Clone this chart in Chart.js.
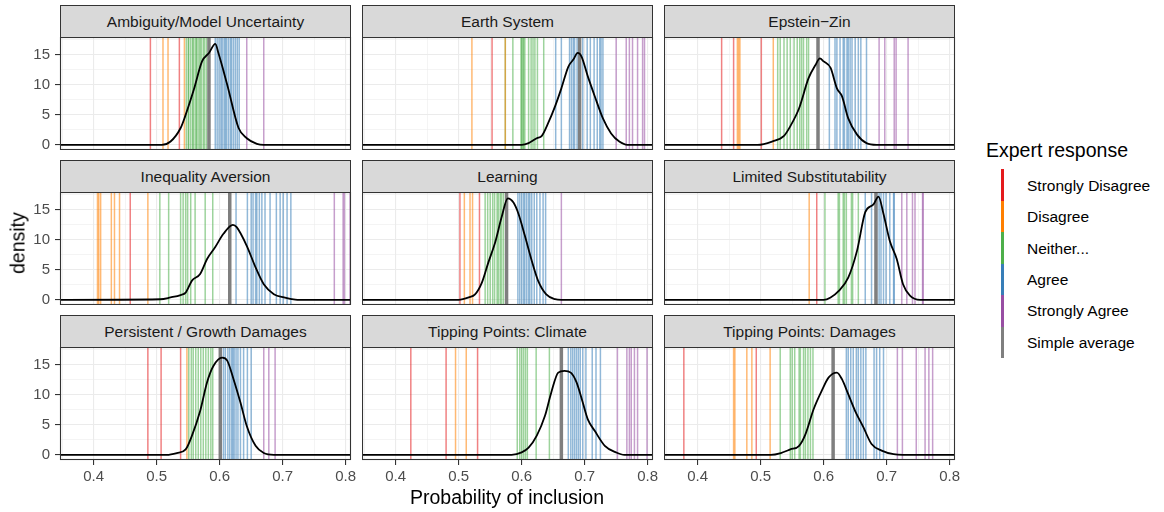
<!DOCTYPE html>
<html>
<head>
<meta charset="utf-8">
<script src="https://cdn.jsdelivr.net/npm/chart.js@4"></script>
<style>
  body { margin: 0; background: #fff; font-family: "Liberation Sans", Arial, sans-serif; }
  #page { position: relative; width: 1164px; height: 512px; overflow: hidden; }
  .panel { position: absolute; }
  .strip { position: absolute; box-sizing: border-box; background: #d9d9d9; border: 1px solid #333;
           color: #1a1a1a; font-size: 15.5px; text-align: center; line-height: 31px; white-space: nowrap; }
  .title { position: absolute; color: #000; font-size: 19.5px; white-space: nowrap; }
  .key { position: absolute; width: 2.5px; }
  .lab { position: absolute; font-size: 15.5px; color: #000; white-space: nowrap; line-height: 20px; }
</style>
</head>
<body>
<div id="page"></div>
<script>
// facet titles
const categories = ["Ambiguity/Model Uncertainty", "Earth System", "Epstein\u2212Zin",
  "Inequality Aversion", "Learning", "Limited Substitutability",
  "Persistent / Growth Damages", "Tipping Points: Climate", "Tipping Points: Damages"];

const responseLabels = ["Strongly Disagree", "Disagree", "Neither...", "Agree", "Strongly Agree", "Simple average"];
const responseColors = ["#E41A1C", "#FF7F00", "#4DAF4A", "#377EB8", "#984EA3", "#7F7F7F"];

// expert answers per facet (probability of inclusion)
const strongDisagree = [
  [0.490, 0.536],
  [0.553],
  [0.438, 0.457, 0.501],
  [0.458],
  [0.502, 0.533],
  [0.589],
  [0.486, 0.507, 0.538],
  [0.424, 0.480, 0.530],
  [0.378, 0.493]
];
const disagree = [
  [0.510, 0.518, 0.544],
  [0.521, 0.574],
  [0.463, 0.465, 0.467, 0.520],
  [0.406, 0.408, 0.411, 0.428, 0.433, 0.441, 0.486],
  [0.509, 0.518, 0.522],
  [0.577],
  [0.548],
  [0.495, 0.512],
  [0.457, 0.459, 0.478, 0.486, 0.515]
];
const neither = [
  [0.547, 0.550, 0.551, 0.554, 0.557, 0.558, 0.561, 0.563, 0.564, 0.567, 0.569, 0.571, 0.574, 0.576, 0.579],
  [0.574, 0.586, 0.599, 0.600, 0.602, 0.603, 0.605, 0.611, 0.615, 0.618, 0.621, 0.625, 0.635],
  [0.527, 0.531, 0.537, 0.542, 0.547, 0.553, 0.558, 0.562, 0.565, 0.568, 0.573, 0.576],
  [0.505, 0.519, 0.538, 0.542, 0.546, 0.549, 0.554, 0.561, 0.577, 0.589],
  [0.542, 0.546, 0.550, 0.554, 0.557, 0.561, 0.563, 0.566, 0.568, 0.571],
  [0.602, 0.623, 0.625, 0.631, 0.633, 0.636, 0.644, 0.646, 0.655],
  [0.551, 0.555, 0.558, 0.562, 0.566, 0.570, 0.574, 0.578, 0.582, 0.586, 0.589],
  [0.593, 0.597, 0.600, 0.603, 0.606, 0.609, 0.623, 0.644],
  [0.531, 0.547, 0.550, 0.554, 0.561, 0.563, 0.568, 0.571, 0.575, 0.579, 0.583]
];
const agree = [
  [0.593, 0.596, 0.599, 0.602, 0.604, 0.607, 0.609, 0.611, 0.614, 0.617, 0.619, 0.622, 0.625, 0.628, 0.631],
  [0.654, 0.663, 0.676, 0.679, 0.682, 0.684, 0.688, 0.697, 0.704, 0.709, 0.715, 0.720, 0.724, 0.726, 0.729],
  [0.609, 0.618, 0.621, 0.626, 0.631, 0.633, 0.637, 0.639, 0.642, 0.645, 0.650, 0.655, 0.659, 0.668],
  [0.626, 0.644, 0.650, 0.653, 0.657, 0.659, 0.663, 0.667, 0.672, 0.680, 0.690, 0.696, 0.701, 0.707, 0.713],
  [0.594, 0.597, 0.600, 0.603, 0.605, 0.608, 0.611, 0.613, 0.616, 0.620, 0.624, 0.629, 0.634, 0.638],
  [0.666, 0.676, 0.684, 0.688, 0.691, 0.695, 0.699, 0.705, 0.711, 0.712],
  [0.606, 0.609, 0.613, 0.616, 0.619, 0.621, 0.623, 0.626, 0.629, 0.633, 0.638, 0.644, 0.650],
  [0.674, 0.678, 0.681, 0.684, 0.687, 0.690, 0.693, 0.697, 0.702, 0.712, 0.718, 0.725],
  [0.636, 0.639, 0.643, 0.647, 0.652, 0.655, 0.659, 0.663, 0.667, 0.680, 0.684, 0.689, 0.695]
];
const strongAgree = [
  [0.643, 0.670],
  [0.750, 0.766, 0.771, 0.776, 0.784, 0.792, 0.795],
  [0.688, 0.697, 0.712, 0.715, 0.734],
  [0.782, 0.796, 0.798, 0.807],
  [0.663],
  [0.724, 0.732, 0.741, 0.745, 0.757, 0.758],
  [0.670, 0.678, 0.688],
  [0.752, 0.767, 0.771, 0.774, 0.779, 0.784, 0.799],
  [0.717, 0.725, 0.747, 0.761, 0.767, 0.773]
];
const simpleAverage = [0.583, 0.692, 0.591, 0.616, 0.576, 0.683, 0.601, 0.663, 0.615];

// density curve
const densityX = [
  [0.34, 0.508, 0.522, 0.538, 0.545, 0.559, 0.572, 0.583, 0.593, 0.598, 0.612, 0.630, 0.643, 0.659, 0.670, 0.82],
  [0.34, 0.600, 0.611, 0.624, 0.632, 0.642, 0.653, 0.663, 0.674, 0.682, 0.689, 0.695, 0.705, 0.716, 0.729, 0.742, 0.755, 0.768, 0.82],
  [0.34, 0.495, 0.518, 0.537, 0.547, 0.561, 0.576, 0.587, 0.594, 0.600, 0.611, 0.621, 0.629, 0.639, 0.653, 0.668, 0.684, 0.82],
  [0.34, 0.506, 0.522, 0.538, 0.546, 0.556, 0.569, 0.580, 0.593, 0.606, 0.621, 0.627, 0.643, 0.657, 0.670, 0.686, 0.702, 0.720, 0.739, 0.82],
  [0.34, 0.500, 0.516, 0.526, 0.537, 0.547, 0.558, 0.568, 0.578, 0.587, 0.595, 0.605, 0.616, 0.626, 0.639, 0.653, 0.663, 0.82],
  [0.34, 0.600, 0.611, 0.624, 0.639, 0.653, 0.666, 0.679, 0.687, 0.695, 0.705, 0.716, 0.726, 0.737, 0.753, 0.82],
  [0.34, 0.516, 0.532, 0.546, 0.556, 0.569, 0.580, 0.590, 0.604, 0.612, 0.622, 0.633, 0.643, 0.657, 0.670, 0.686, 0.82],
  [0.34, 0.584, 0.600, 0.611, 0.624, 0.637, 0.647, 0.658, 0.668, 0.678, 0.687, 0.697, 0.705, 0.716, 0.732, 0.750, 0.763, 0.82],
  [0.34, 0.516, 0.532, 0.547, 0.561, 0.571, 0.584, 0.597, 0.608, 0.621, 0.629, 0.639, 0.650, 0.663, 0.676, 0.692, 0.711, 0.726, 0.82]
];
const densityY = [
  [0, 0, 0.55, 2.8, 4.7, 9.2, 13.9, 15.3, 16.8, 15.3, 10, 2.8, 1.1, 0.17, 0, 0],
  [0, 0, 0.28, 1.1, 1.5, 3.6, 6.4, 9.4, 13, 14.2, 15.3, 14.7, 11.4, 8.1, 4.4, 1.9, 0.55, 0, 0],
  [0, 0, 0.55, 1.5, 3.1, 6.1, 11.1, 13.3, 14.4, 13.9, 12.8, 9.4, 8.1, 4.4, 1.7, 0.28, 0, 0],
  [0, 0.1, 0.4, 0.8, 1.2, 3.2, 4.3, 6.8, 8.8, 11, 12.5, 12.1, 9, 5.4, 2.6, 0.95, 0.4, 0.05, 0, 0],
  [0, 0, 0.4, 0.9, 2.9, 6.2, 9.6, 13.7, 16.9, 16.2, 14.3, 10.7, 6.5, 3.2, 0.9, 0.1, 0, 0],
  [0, 0, 0.4, 1.5, 3.7, 8.2, 14.6, 15.9, 17.2, 14.3, 9.8, 6.8, 2.6, 0.7, 0, 0],
  [0, 0, 0.3, 0.9, 3.2, 7.3, 12.1, 14.8, 16.2, 15.7, 12.6, 8.7, 4.8, 1.5, 0.3, 0, 0],
  [0, 0, 0.4, 1.2, 3.2, 6.5, 10.4, 13.7, 14, 13.7, 12.1, 8.7, 5.9, 4, 1.5, 0.4, 0, 0],
  [0, 0, 0.3, 0.9, 1.5, 3.4, 7.6, 10.7, 12.9, 13.7, 12.6, 10.1, 7.3, 4.6, 1.8, 0.7, 0.1, 0, 0]
];

const xTicks = [0.35, 0.4, 0.45, 0.5, 0.55, 0.6, 0.65, 0.7, 0.75, 0.8];
const yTicks = [0, 2.5, 5, 7.5, 10, 12.5, 15, 17.5];

Chart.defaults.font.family = '"Liberation Sans", Arial, sans-serif';

const page = document.getElementById("page");
const colLeft = [60, 362, 664];
const rowTop = [37, 192, 347];
const plotW = 291, plotH = 113;

const fade = ["rgba(228,26,28,0.55)", "rgba(255,127,0,0.55)", "rgba(77,175,74,0.55)",
  "rgba(55,126,184,0.55)", "rgba(152,78,163,0.55)"];
const responses = [strongDisagree, disagree, neither, agree, strongAgree];

// panel border drawn over everything
const frame = {
  id: "frame",
  afterDraw(chart) {
    const a = chart.chartArea, c = chart.ctx;
    c.save();
    c.strokeStyle = "#333333";
    c.lineWidth = 1.1;
    c.strokeRect(a.left + 0.5, a.top + 0.5, a.right - a.left - 1, a.bottom - a.top - 1);
    c.restore();
  }
};

function vline(v, color, width) {
  return {
    data: [{x: v, y: -5}, {x: v, y: 30}],
    borderColor: color, borderWidth: width,
    pointRadius: 0, fill: false, tension: 0, clip: 0
  };
}

function isMajor(v, step) {
  return Math.abs(v / step - Math.round(v / step)) < 1e-6;
}

categories.forEach(function(name, i) {
  const r = Math.floor(i / 3), c = i % 3;
  const yw = c === 0 ? 60 : 0;
  const xh = r === 2 ? 32 : 0;
  const padR = 14;

  const strip = document.createElement("div");
  strip.className = "strip";
  strip.style.left = colLeft[c] + "px";
  strip.style.top = (rowTop[r] - 32) + "px";
  strip.style.width = plotW + "px";
  strip.style.height = "33px";
  strip.textContent = name;
  page.appendChild(strip);

  const box = document.createElement("div");
  box.className = "panel";
  box.style.left = (colLeft[c] - yw) + "px";
  box.style.top = rowTop[r] + "px";
  const cv = document.createElement("canvas");
  cv.width = yw + plotW + padR;
  cv.height = plotH + xh;
  box.appendChild(cv);
  page.appendChild(box);

  const ds = [];
  ds.push({
    data: densityX[i].map((x, k) => ({x: x, y: densityY[i][k]})),
    borderColor: "#000", borderWidth: 1.8, pointRadius: 0, fill: false,
    cubicInterpolationMode: "monotone", clip: 0
  });
  ds.push(vline(simpleAverage[i], "#7F7F7F", 3.5));
  responses.forEach(function(arr, k) {
    arr[i].forEach(v => ds.push(vline(v, fade[k], 1.5)));
  });

  new Chart(cv, {
    type: "line",
    data: {datasets: ds},
    options: {
      responsive: false,
      animation: false,
      layout: {padding: {left: 0, top: 0, bottom: 0, right: padR}},
      plugins: {legend: {display: false}, tooltip: {enabled: false}},
      scales: {
        x: {
          type: "linear", min: 0.3465, max: 0.8085,
          afterBuildTicks: s => { s.ticks = xTicks.map(v => ({value: v})); },
          afterFit: s => { s.height = xh; s.paddingLeft = 0; s.paddingRight = 0; },
          border: {display: false},
          grid: {
            color: "#EBEBEB",
            lineWidth: ctx => isMajor(ctx.tick.value, 0.1) ? 1.1 : 0.55,
            drawTicks: r === 2,
            tickLength: 5,
            tickWidth: 1.1,
            tickColor: ctx => isMajor(ctx.tick.value, 0.1) ? "#333333" : "rgba(0,0,0,0)"
          },
          ticks: {
            display: r === 2, color: "#4D4D4D", padding: 3, maxRotation: 0, autoSkip: false,
            font: {size: 15},
            callback: v => isMajor(v, 0.1) ? v.toFixed(1) : ""
          }
        },
        y: {
          type: "linear", min: -0.86, max: 17.96,
          afterBuildTicks: s => { s.ticks = yTicks.map(v => ({value: v})); },
          afterFit: s => { s.width = yw; s.paddingTop = 0; s.paddingBottom = 0; },
          border: {display: false},
          grid: {
            color: "#EBEBEB",
            lineWidth: ctx => isMajor(ctx.tick.value, 5) ? 1.1 : 0.55,
            drawTicks: c === 0,
            tickLength: 5,
            tickWidth: 1.1,
            tickColor: ctx => isMajor(ctx.tick.value, 5) ? "#333333" : "rgba(0,0,0,0)"
          },
          ticks: {
            display: c === 0, color: "#4D4D4D", padding: 5, autoSkip: false,
            font: {size: 15},
            callback: v => isMajor(v, 5) ? String(v) : ""
          }
        }
      }
    },
    plugins: [frame]
  });
});

// axis titles
const xt = document.createElement("div");
xt.className = "title";
xt.textContent = "Probability of inclusion";
xt.style.left = "507px"; xt.style.top = "497px";
xt.style.transform = "translate(-50%, -50%)";
page.appendChild(xt);

const yt = document.createElement("div");
yt.className = "title";
yt.textContent = "density";
yt.style.left = "18px"; yt.style.top = "243px";
yt.style.transform = "translate(-50%, -50%) rotate(-90deg)";
page.appendChild(yt);

// legend
const lt = document.createElement("div");
lt.className = "title";
lt.textContent = "Expert response";
lt.style.left = "986px"; lt.style.top = "139px";
page.appendChild(lt);

responseLabels.forEach(function(lab, k) {
  const key = document.createElement("div");
  key.className = "key";
  key.style.left = "1001px";
  key.style.top = (169 + k * 31.5) + "px";
  key.style.height = "31.5px";
  key.style.background = responseColors[k];
  page.appendChild(key);

  const t = document.createElement("div");
  t.className = "lab";
  t.textContent = lab;
  t.style.left = "1027px";
  t.style.top = (176 + k * 31.3) + "px";
  page.appendChild(t);
});
</script>
</body>
</html>
